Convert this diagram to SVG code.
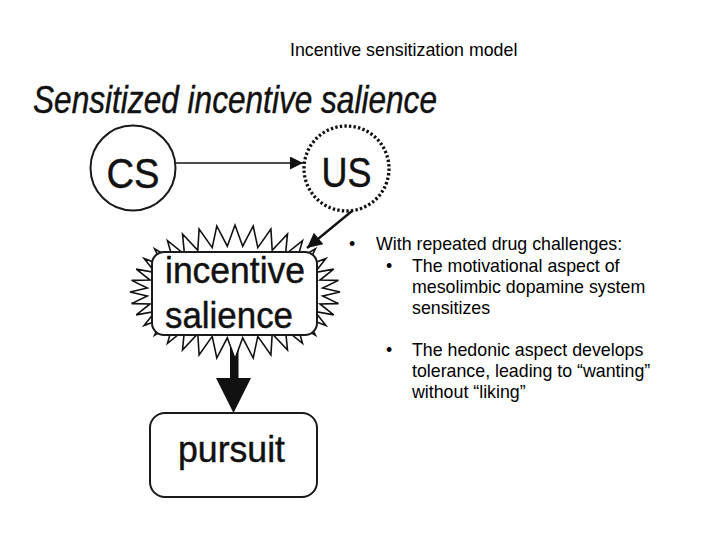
<svg xmlns="http://www.w3.org/2000/svg" width="720" height="540" viewBox="0 0 720 540">
<defs>
<style>
.sl{font-family:"Liberation Sans",Arial,sans-serif;font-size:17.8px;fill:#000}
.big{font-family:"Liberation Sans",Arial,sans-serif;fill:#111;stroke:#111;stroke-width:0.45}
.node{fill:#fff;stroke:#1a1a1a;stroke-width:2}
.conn{stroke:#111;fill:none}
</style>
<marker id="ah1" viewBox="0 0 10 10" refX="10" refY="5" markerWidth="15" markerHeight="13" markerUnits="userSpaceOnUse" orient="auto"><path d="M0,0 L10,5 L0,10 z" fill="#111"/></marker>
<marker id="ah2" viewBox="0 0 10 10" refX="10" refY="5" markerWidth="19" markerHeight="15" markerUnits="userSpaceOnUse" orient="auto"><path d="M0,0 L10,5 L0,10 z" fill="#111"/></marker>
</defs>
<rect width="720" height="540" fill="#fff"/>
<text class="sl" x="290" y="56">Incentive sensitization model</text>
<text class="big" x="33" y="113" font-size="38" font-style="italic" textLength="404" lengthAdjust="spacingAndGlyphs">Sensitized incentive salience</text>

<g id="connectors">
<line class="conn" x1="175.5" y1="163" x2="303" y2="163" stroke-width="1.5" marker-end="url(#ah1)"/>
<line class="conn" x1="352" y1="211" x2="307" y2="248" stroke-width="2.3" marker-end="url(#ah2)"/>
<rect x="230" y="336" width="8.5" height="44" fill="#111"/>
<polygon points="216,378 251,378 233.5,413" fill="#111"/>
</g>

<g id="cs">
<circle class="node" cx="133" cy="168" r="42.5" stroke-width="1.6"/>
<text class="big" x="133" y="188" font-size="43" text-anchor="middle" textLength="53" lengthAdjust="spacingAndGlyphs">CS</text>
</g>

<g id="us">
<circle cx="346.5" cy="168.5" r="42.5" fill="#fff" stroke="#111" stroke-width="3.3" stroke-dasharray="2.4 2.2"/>
<text class="big" x="346.5" y="187" font-size="43" text-anchor="middle" textLength="50" lengthAdjust="spacingAndGlyphs">US</text>
</g>

<g id="incentive-salience">
<polygon fill="#fff" stroke="#111" stroke-width="1.6" stroke-linejoin="miter" points="340,292 322.7,288 338.4,280.4 320,280.1 333.7,269.1 314.8,272.6 325.9,258.5 307.1,265.6 315.4,248.9 297.2,259.5 302.5,240.7 285.5,254.3 287.5,234 272.2,250.3 270.9,229 257.8,247.6 253.2,226 242.7,246.2 235,225 227.3,246.2 216.8,226 212.2,247.6 199.1,229 197.8,250.3 182.5,234 184.5,254.3 167.5,240.7 172.8,259.5 154.6,248.9 162.9,265.6 144.1,258.5 155.2,272.6 136.3,269.1 150,280.1 131.6,280.4 147.3,288 130,292 147.3,296 131.6,303.6 150,303.9 136.3,314.9 155.2,311.4 144.1,325.5 162.9,318.4 154.6,335.1 172.8,324.5 167.5,343.3 184.5,329.7 182.5,350 197.8,333.7 199.1,355 212.2,336.4 216.8,358 227.3,337.8 235,359 242.7,337.8 253.2,358 257.8,336.4 270.9,355 272.2,333.7 287.5,350 285.5,329.7 302.5,343.3 297.2,324.5 315.4,335.1 307.1,318.4 325.9,325.5 314.8,311.4 333.7,314.9 320,303.9 338.4,303.6 322.7,296"/>
<rect class="node" x="152" y="252" width="165" height="83" rx="12"/>
<text class="big" x="165" y="283" font-size="37" textLength="140" lengthAdjust="spacingAndGlyphs">incentive</text>
<text class="big" x="165" y="328" font-size="37" textLength="128" lengthAdjust="spacingAndGlyphs">salience</text>
</g>

<g id="pursuit">
<rect class="node" x="150" y="413" width="167" height="84" rx="15"/>
<text class="big" x="178" y="462" font-size="37" textLength="107" lengthAdjust="spacingAndGlyphs">pursuit</text>
</g>

<g id="bullets">
<text class="sl" x="349" y="250">•</text>
<text class="sl" x="376" y="250">With repeated drug challenges:</text>
<text class="sl" x="386" y="271.5">•</text>
<text class="sl" x="412" y="271.5">The motivational aspect of</text>
<text class="sl" x="412" y="292.5">mesolimbic dopamine system</text>
<text class="sl" x="412" y="313.5">sensitizes</text>
<text class="sl" x="386" y="356">•</text>
<text class="sl" x="412" y="356">The hedonic aspect develops</text>
<text class="sl" x="412" y="377">tolerance, leading to “wanting”</text>
<text class="sl" x="412" y="398">without “liking”</text>
</g>
</svg>
